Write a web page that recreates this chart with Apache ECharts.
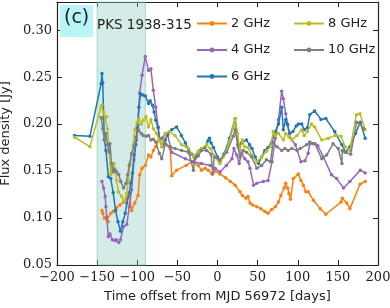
<!DOCTYPE html>
<html><head><meta charset="utf-8">
<script src="https://cdn.jsdelivr.net/npm/echarts@6/dist/echarts.min.js"></script>
<style>html,body{margin:0;padding:0;background:#fff}#c{width:390px;height:308px}</style>
</head><body><div id="c"></div>
<script>
const seriesNames = ['2 GHz','4 GHz','6 GHz','8 GHz','10 GHz'];
const xTicks = [-200,-150,-100,-50,0,50,100,150,200];
const yTicks = [0.05,0.10,0.15,0.20,0.25,0.30];
const flareRange = [-150,-90];

const s2 = [[-144,0.108],[-143,0.105],[-141,0.100],[-138,0.098],[-136,0.096],[-133,0.105],[-130,0.107],[-126,0.111],[-121.5,0.114],[-117,0.117],[-113,0.121],[-110,0.126],[-107,0.108],[-103,0.116],[-99,0.124],[-97,0.146],[-94,0.153],[-90,0.156],[-86,0.167],[-83,0.165],[-80,0.172],[-77,0.176],[-73,0.183],[-70,0.185],[-67,0.180],[-64,0.178],[-59,0.174],[-57,0.145],[-51,0.151],[-39,0.156],[-32,0.160],[-24,0.156],[-20,0.151],[-15.5,0.153],[-11.5,0.151],[-7,0.147],[-3,0.150],[3,0.147],[10,0.143],[16,0.139],[22,0.135],[28,0.128],[31,0.124],[35.5,0.121],[38,0.123],[40.5,0.116],[44,0.114],[49,0.112],[54,0.110],[59,0.107],[63,0.105],[67.5,0.109],[72,0.112],[76,0.117],[79,0.124],[83,0.132],[85,0.137],[87.5,0.132],[89,0.126],[91,0.120],[94.5,0.142],[100.7,0.147],[104,0.140],[107,0.135],[110,0.128],[113,0.128],[119.5,0.119],[128,0.110],[135,0.104],[154,0.117],[155.5,0.121],[161,0.116],[165,0.110],[177.6,0.136],[184,0.139]];
const s4 = [[-144,0.139],[-142,0.132],[-140,0.123],[-139,0.112],[-138,0.101],[-136,0.080],[-134,0.083],[-131,0.077],[-128,0.076],[-126,0.077],[-123,0.074],[-121,0.077],[-117,0.091],[-113,0.093],[-110,0.112],[-107,0.130],[-104,0.162],[-101,0.183],[-99,0.199],[-97,0.233],[-94,0.252],[-90,0.272],[-86,0.257],[-83,0.259],[-80,0.236],[-77,0.218],[-74,0.197],[-72,0.183],[-69,0.185],[-65,0.190],[-62,0.188],[-57,0.170],[-40,0.163],[-30,0.160],[-20,0.158],[-9,0.156],[-3,0.153],[3,0.149],[11,0.156],[18,0.163],[20.5,0.174],[24,0.167],[27,0.158],[30,0.169],[34,0.163],[38,0.160],[40.5,0.153],[45,0.135],[49,0.137],[57,0.139],[63,0.140],[68,0.160],[72,0.185],[76,0.205],[80,0.235],[82,0.227],[85,0.211],[87.5,0.199],[90,0.186],[97,0.178],[104,0.160],[109,0.161],[113,0.169],[115,0.179],[119,0.179],[125,0.177],[132,0.165],[142,0.146],[148.5,0.142],[157,0.132],[165,0.139],[178,0.151],[184,0.148]];
const s6 = [[-178,0.188],[-159,0.187],[-145,0.243],[-144,0.254],[-143,0.244],[-141,0.183],[-139,0.172],[-136,0.144],[-133,0.142],[-130,0.127],[-127,0.108],[-124,0.096],[-121,0.086],[-118,0.096],[-115,0.105],[-113,0.116],[-110,0.127],[-108,0.137],[-106,0.148],[-104,0.167],[-102,0.178],[-100,0.196],[-98,0.218],[-96,0.232],[-93,0.231],[-90,0.230],[-86,0.222],[-84,0.225],[-81,0.220],[-79,0.213],[-77,0.204],[-74,0.196],[-72,0.183],[-69,0.176],[-65,0.183],[-62,0.190],[-57,0.194],[-51,0.197],[-45,0.188],[-40,0.180],[-36,0.172],[-32,0.168],[-28,0.165],[-22,0.172],[-16,0.175],[-12,0.182],[-10,0.185],[-8,0.180],[-5,0.175],[0,0.165],[3,0.160],[8,0.168],[15,0.185],[22,0.206],[26,0.176],[30,0.180],[36,0.183],[40,0.178],[43,0.174],[47,0.165],[51,0.158],[55,0.165],[59,0.172],[63,0.175],[67,0.180],[72,0.192],[76,0.200],[80,0.218],[82,0.194],[85,0.205],[87,0.200],[90,0.190],[94,0.192],[98,0.198],[101,0.200],[105,0.200],[108,0.194],[112,0.196],[115,0.210],[121,0.214],[129,0.205],[135,0.206],[146,0.192],[155,0.178],[160,0.170],[165,0.176],[172,0.190],[178,0.202],[184,0.185]];
const s8 = [[-178,0.186],[-159,0.176],[-145,0.219],[-144,0.220],[-142,0.213],[-140,0.206],[-138,0.208],[-137,0.195],[-135,0.172],[-133,0.146],[-131,0.153],[-129,0.158],[-125.6,0.140],[-123.6,0.128],[-119.4,0.123],[-116.5,0.117],[-113,0.126],[-111,0.140],[-109,0.158],[-107,0.167],[-105,0.178],[-103,0.194],[-100,0.202],[-98,0.206],[-95,0.200],[-92.5,0.204],[-89,0.208],[-86,0.197],[-83,0.205],[-80,0.195],[-76,0.190],[-72.5,0.183],[-69.5,0.176],[-65,0.190],[-60,0.192],[-53,0.188],[-44.6,0.178],[-36,0.174],[-30,0.165],[-24,0.171],[-20,0.174],[-13.5,0.178],[-9,0.174],[-3,0.165],[3,0.158],[7,0.165],[13.5,0.178],[19.7,0.197],[22,0.206],[25,0.190],[28,0.172],[31,0.183],[34,0.176],[38,0.175],[42.6,0.167],[49,0.160],[55,0.165],[61,0.171],[66,0.176],[69.5,0.192],[72,0.188],[76,0.190],[82,0.183],[85,0.190],[89,0.187],[92.5,0.183],[99,0.188],[105,0.194],[108,0.188],[112,0.192],[117,0.200],[121,0.197],[130,0.183],[138,0.185],[146.5,0.188],[154,0.187],[159,0.176],[165,0.172],[173,0.210],[177.6,0.211],[184,0.194]];
const s10 = [[-145,0.207],[-144,0.206],[-143,0.195],[-141,0.183],[-139,0.190],[-137,0.178],[-135,0.170],[-134,0.179],[-132,0.158],[-130,0.149],[-128,0.152],[-125.6,0.149],[-123,0.146],[-120.6,0.139],[-117,0.132],[-114,0.137],[-112,0.146],[-110,0.156],[-107,0.169],[-104,0.176],[-101.5,0.186],[-98.6,0.194],[-95,0.190],[-92.5,0.188],[-89,0.187],[-86,0.188],[-83,0.183],[-80,0.184],[-77,0.181],[-72.5,0.169],[-69.5,0.163],[-65,0.179],[-59,0.176],[-53,0.174],[-44.6,0.172],[-36,0.170],[-30,0.151],[-28,0.163],[-24,0.166],[-20,0.172],[-13.5,0.172],[-8,0.168],[-6,0.147],[-4,0.165],[3,0.162],[11.5,0.170],[19.7,0.187],[22,0.194],[25,0.178],[28,0.165],[32,0.172],[36,0.170],[42.6,0.165],[49,0.153],[55,0.156],[61,0.162],[66,0.160],[69.5,0.181],[74,0.176],[80,0.172],[84,0.174],[88,0.172],[92.5,0.174],[99,0.172],[103,0.174],[111,0.178],[115,0.181],[121.5,0.179],[130,0.163],[136,0.167],[144,0.179],[150.5,0.174],[155,0.158],[155.5,0.172],[159,0.170],[166,0.168],[173.5,0.202],[178,0.200],[182,0.195]];

const colors = ['#ff7f0e','#9467bd','#1f77b4','#bcbd22','#7f7f7f'];
const dataSets = [s2,s4,s6,s8,s10];

const chart = echarts.init(document.getElementById('c'), null, {renderer:'canvas'});
const serif = 'DejaVu Serif';
const sans = 'DejaVu Sans';
const minus = v => String(v).replace('-', '\u2212');

const series = dataSets.map((d,i) => ({
  name: seriesNames[i], type: 'line', data: d,
  symbol: 'circle', symbolSize: 3.5, showSymbol: true,
  lineStyle: {width: 1.5, color: colors[i]},
  itemStyle: {color: colors[i]},
  animation: false, z: 3 + i
}));
series[0].markArea = {
  silent: true,
  itemStyle: {color: 'rgba(120,195,182,0.32)', borderColor: 'rgba(110,185,170,0.55)', borderWidth: 1},
  data: [[{xAxis: flareRange[0]}, {xAxis: flareRange[1]}]],
  z: 1
};

const legendBase = {orient: 'vertical', top: 12, itemWidth: 30, itemHeight: 6, itemGap: 13.5,
  textStyle: {fontFamily: sans, fontSize: 13, color: '#222', padding: [0,0,0,-1]}};

chart.setOption({
  animation: false,
  color: colors,
  grid: {left: 57, right: 12, top: 2, bottom: 43, containLabel: false, outerBoundsMode: 'none'},
  legend: [
    Object.assign({data: seriesNames.slice(0,3), left: 191}, legendBase),
    Object.assign({data: seriesNames.slice(3), left: 288}, legendBase)
  ],
  xAxis: [
    {type: 'value', min: xTicks[0], max: xTicks[xTicks.length-1], interval: 50, position: 'bottom',
     name: 'Time offset from MJD 56972 [days]', nameLocation: 'middle', nameGap: 25,
     nameTextStyle: {fontFamily: sans, fontSize: 13, color: '#222'},
     axisLine: {onZero: false, lineStyle: {color: '#222', width: 1.2}},
     axisTick: {inside: true, length: 5, lineStyle: {color: '#222'}},
     axisLabel: {formatter: minus, fontFamily: serif, fontSize: 13, color: '#222', margin: 6},
     splitLine: {show: false}},
    {type: 'value', min: xTicks[0], max: xTicks[xTicks.length-1], interval: 50, position: 'top',
     axisLine: {show: true, onZero: false, lineStyle: {color: '#222', width: 1.2}},
     axisTick: {inside: true, length: 5, lineStyle: {color: '#222'}},
     axisLabel: {show: false}, splitLine: {show: false}}
  ],
  yAxis: [
    {type: 'value', min: yTicks[0], max: 0.33, interval: 0.05, position: 'left',
     name: 'Flux density [Jy]', nameLocation: 'middle', nameGap: 36,
     nameTextStyle: {fontFamily: sans, fontSize: 13, color: '#222'},
     axisLine: {show: true, onZero: false, lineStyle: {color: '#222', width: 1.2}},
     axisTick: {inside: true, length: 5, lineStyle: {color: '#222'}},
     axisLabel: {formatter: v => (Math.abs(v-0.33)<1e-6 ? '' : v.toFixed(2)), showMaxLabel: false, fontFamily: serif, fontSize: 13, color: '#222', margin: 5},
     splitLine: {show: false}},
    {type: 'value', min: yTicks[0], max: 0.33, interval: 0.05, position: 'right',
     axisLine: {show: true, onZero: false, lineStyle: {color: '#222', width: 1.2}},
     axisTick: {inside: true, length: 5, lineStyle: {color: '#222'}},
     axisLabel: {show: false}, splitLine: {show: false}}
  ],
  graphic: [
    {type: 'rect', left: 60, top: 5, shape: {width: 33, height: 32}, style: {fill: '#b9f4f7'}, z: 10},
    {type: 'text', left: 64, top: 9, style: {text: '(c)', font: '19px "DejaVu Sans"', fill: '#222'}, z: 11},
    {type: 'text', left: 97, top: 18, style: {text: 'PKS 1938-315', font: '13.5px "DejaVu Sans"', fill: '#222'}, z: 11}
  ],
  series: series
});
</script></body></html>
